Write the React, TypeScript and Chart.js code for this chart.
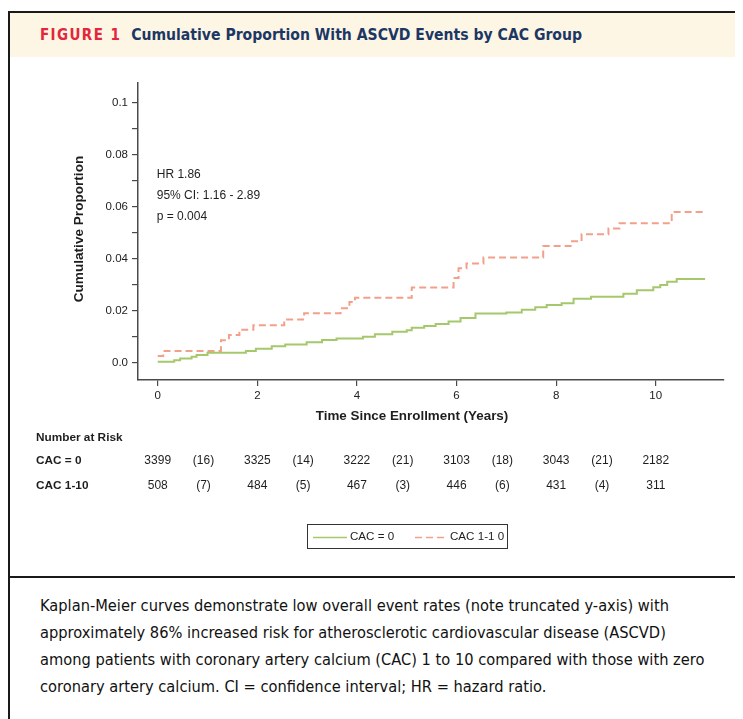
import React, { useEffect, useRef } from "react";
import { Chart, registerables } from "chart.js";

Chart.register(...registerables);

// ---- data ----
const cac0Times = [0, 0.33, 0.45, 0.68, 0.78, 1.0, 1.77, 1.97, 2.29, 2.56, 2.99, 3.3, 3.59, 4.12, 4.36, 4.71, 5.0, 5.1, 5.35, 5.58, 5.84, 6.08, 6.38, 7.0, 7.31, 7.58, 7.81, 8.11, 8.35, 8.7, 9.35, 9.62, 9.95, 10.09, 10.23, 10.42, 10.99];
const cac0Props = [0.0002, 0.0008, 0.0015, 0.0022, 0.0028, 0.0037, 0.0044, 0.0052, 0.0062, 0.0069, 0.0077, 0.0086, 0.0092, 0.0099, 0.0108, 0.0118, 0.0124, 0.0133, 0.014, 0.0148, 0.0157, 0.0171, 0.0188, 0.0192, 0.0203, 0.0212, 0.0221, 0.0228, 0.0245, 0.0253, 0.0264, 0.0278, 0.0289, 0.0298, 0.031, 0.0321, 0.0321];

const cac110Times = [0, 0.11, 1.27, 1.43, 1.64, 1.92, 2.54, 2.94, 3.67, 3.85, 3.96, 5.1, 5.94, 6.04, 6.2, 6.54, 7.74, 8.29, 8.51, 9.05, 9.27, 10.32, 10.99];
const cac110Props = [0.0024, 0.0044, 0.0085, 0.0105, 0.0126, 0.0143, 0.0165, 0.0189, 0.0208, 0.0232, 0.0249, 0.0288, 0.0325, 0.0362, 0.0381, 0.0404, 0.0448, 0.0466, 0.0493, 0.0516, 0.0536, 0.0579, 0.0579];

const xTicks = [0, 2, 4, 6, 8, 10];
const yTicks = [0, 0.01, 0.02, 0.03, 0.04, 0.05, 0.06, 0.07, 0.08, 0.09, 0.1];

const riskTimes = [0, 1, 2, 3, 4, 5, 6, 7, 8, 9, 10];
const riskCac0 = ["3399", "(16)", "3325", "(14)", "3222", "(21)", "3103", "(18)", "3043", "(21)", "2182"];
const riskCac110 = ["508", "(7)", "484", "(5)", "467", "(3)", "446", "(6)", "431", "(4)", "311"];

const annotationLines = ["HR 1.86", "95% CI: 1.16 - 2.89", "p = 0.004"];
const annotationYs = [0.0721, 0.0641, 0.0561];

const seriesLabels = ["CAC = 0", "CAC 1-1 0"];
const GREEN = "#a6c86c";
const SALMON = "#f3a08b";
const AXIS = "#4a4a4a";
const FONT = "'Liberation Sans', Arial, Helvetica, sans-serif";

const overlayPlugin = {
  id: "overlay",
  afterDraw(chart: any) {
    const ctx = chart.ctx;
    const xs = chart.scales.x;
    const ys = chart.scales.y;
    ctx.save();
    ctx.fillStyle = "#1e1e1e";

    // annotation
    ctx.font = `12px ${FONT}`;
    ctx.textAlign = "left";
    ctx.textBaseline = "middle";
    annotationLines.forEach((t, i) => {
      ctx.fillText(t, xs.getPixelForValue(0) - 1, ys.getPixelForValue(annotationYs[i]));
    });

    // y title
    ctx.font = `bold 13.6px ${FONT}`;
    ctx.save();
    ctx.translate(69, 172);
    ctx.rotate(-Math.PI / 2);
    ctx.textAlign = "center";
    ctx.fillText("Cumulative Proportion", 0, 0);
    ctx.restore();

    // x title
    ctx.font = `bold 13.4px ${FONT}`;
    ctx.textAlign = "center";
    ctx.fillText("Time Since Enrollment (Years)", 402, 359);

    // number at risk
    ctx.textAlign = "left";
    ctx.font = `bold 11.8px ${FONT}`;
    ctx.fillText("Number at Risk", 26, 381);
    ctx.fillText("CAC = 0", 26, 404);
    ctx.fillText("CAC 1-10", 26, 429);
    ctx.font = `12px ${FONT}`;
    ctx.textAlign = "center";
    riskTimes.forEach((t, i) => {
      const off = i % 2 === 1 ? -4 : 0;
      const px = xs.getPixelForValue(t) + off;
      ctx.fillText(riskCac0[i], px, 404);
      ctx.fillText(riskCac110[i], px, 429);
    });

    // legend
    ctx.strokeStyle = "#333";
    ctx.lineWidth = 1;
    ctx.strokeRect(297.5, 467.5, 200, 24);
    ctx.lineWidth = 1.5;
    ctx.strokeStyle = GREEN;
    ctx.beginPath();
    ctx.moveTo(303, 480.5);
    ctx.lineTo(337, 480.5);
    ctx.stroke();
    ctx.strokeStyle = SALMON;
    ctx.setLineDash([7, 4]);
    ctx.beginPath();
    ctx.moveTo(405, 480.5);
    ctx.lineTo(437, 480.5);
    ctx.stroke();
    ctx.setLineDash([]);
    ctx.textAlign = "left";
    ctx.fillStyle = "#1e1e1e";
    ctx.font = `11.6px ${FONT}`;
    ctx.fillText(seriesLabels[0], 340, 480);
    ctx.fillText(seriesLabels[1], 440, 480);

    ctx.restore();
  },
};

function KMChart() {
  const ref = useRef<HTMLCanvasElement | null>(null);
  useEffect(() => {
    if (!ref.current) return;
    const chart = new Chart(ref.current, {
      type: "line",
      data: {
        datasets: [
          {
            label: seriesLabels[0],
            data: cac0Times.map((t, i) => ({ x: t, y: cac0Props[i] })),
            borderColor: GREEN,
            borderWidth: 2,
            pointRadius: 0,
            stepped: "before",
            fill: false,
          },
          {
            label: seriesLabels[1],
            data: cac110Times.map((t, i) => ({ x: t, y: cac110Props[i] })),
            borderColor: SALMON,
            borderWidth: 2,
            borderDash: [7, 4],
            pointRadius: 0,
            stepped: "before",
            fill: false,
          },
        ],
      },
      options: {
        animation: false,
        responsive: false,
        devicePixelRatio: 1,
        layout: { padding: { left: 0, top: 26, right: 19, bottom: 0 } },
        plugins: { legend: { display: false }, tooltip: { enabled: false }, title: { display: false } },
        scales: {
          x: {
            type: "linear",
            min: -0.396,
            max: 11.37,
            afterBuildTicks: (s: any) => {
              s.ticks = xTicks.map((v) => ({ value: v }));
            },
            afterFit: (s: any) => {
              s.height = 196;
            },
            border: { display: true, color: AXIS, width: 1.5 },
            grid: { display: true, drawOnChartArea: false, drawTicks: true, tickLength: 6, color: AXIS, lineWidth: 1.2 },
            ticks: { color: "#222", font: { family: FONT, size: 11.5 }, padding: 3, maxRotation: 0 },
          },
          y: {
            type: "linear",
            min: -0.0068,
            max: 0.1076,
            afterBuildTicks: (s: any) => {
              s.ticks = yTicks.map((v) => ({ value: v }));
            },
            afterFit: (s: any) => {
              s.width = 128;
            },
            border: { display: true, color: AXIS, width: 1.5 },
            grid: { display: true, drawOnChartArea: false, drawTicks: true, tickLength: 6, color: AXIS, lineWidth: 1.2 },
            ticks: {
              color: "#222",
              font: { family: FONT, size: 11.5 },
              padding: 4,
              callback: (v: any, i: number) => {
                if (i % 2 !== 0) return "";
                if (i === 0) return "0.0";
                if (i === 10) return "0.1";
                return Number(v).toFixed(2);
              },
            },
          },
        },
      },
      plugins: [overlayPlugin],
    } as any);
    return () => chart.destroy();
  }, []);
  return <canvas ref={ref} width={733} height={519} style={{ display: "block", width: 733, height: 519 }} />;
}

export default function App() {
  const cond = "'DejaVu Sans Condensed', 'Roboto', sans-serif";
  return (
    <div style={{ position: "relative", width: 735, height: 711, overflow: "hidden", background: "#fff" }}>
      <div
        style={{
          position: "absolute",
          left: 0,
          top: 3,
          width: 800,
          height: 760,
          borderLeft: "2px solid #1a1a1a",
          borderTop: "2px solid #1a1a1a",
          boxSizing: "border-box",
        }}
      >
        <div
          style={{
            height: 44,
            background: "#fdf6e5",
            display: "flex",
            alignItems: "center",
            paddingLeft: 30,
            fontFamily: cond,
            fontWeight: "bold",
            whiteSpace: "nowrap",
          }}
        >
          <span style={{ color: "#e3263b", fontSize: 15, letterSpacing: 1.4 }}>FIGURE 1</span>
          <span style={{ color: "#1c3764", fontSize: 15.6, marginLeft: 10 }}>
            Cumulative Proportion With ASCVD Events by CAC Group
          </span>
        </div>
        <KMChart />
        <div style={{ borderTop: "2px solid #1a1a1a", width: 800 }} />
        <div
          style={{
            paddingTop: 14,
            paddingLeft: 30,
            fontFamily: cond,
            fontSize: 16.3,
            lineHeight: "27px",
            color: "#111",
            whiteSpace: "nowrap",
          }}
        >
          Kaplan-Meier curves demonstrate low overall event rates (note truncated y-axis) with
          <br />
          approximately 86% increased risk for atherosclerotic cardiovascular disease (ASCVD)
          <br />
          among patients with coronary artery calcium (CAC) 1 to 10 compared with those with zero
          <br />
          coronary artery calcium. CI = confidence interval; HR = hazard ratio.
        </div>
      </div>
    </div>
  );
}
